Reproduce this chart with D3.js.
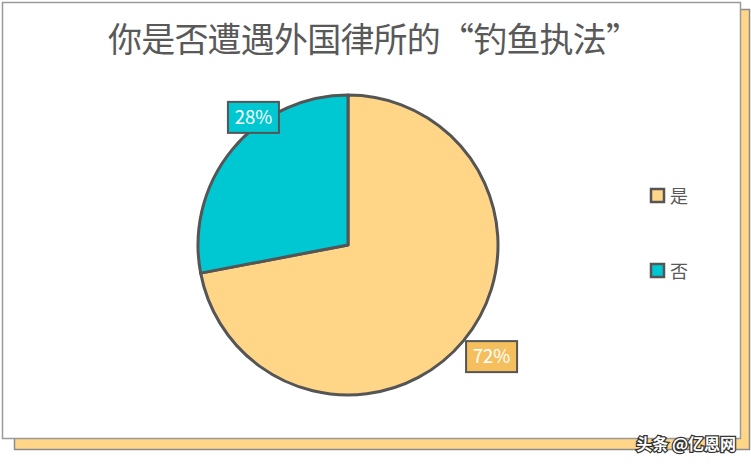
<!DOCTYPE html>
<html>
<head>
<meta charset="utf-8">
<script src="https://cdn.jsdelivr.net/npm/d3@7"></script>
<style>
  body { margin: 0; background: #fff; }
  text { font-family: "Noto Sans CJK SC", "Noto Sans", sans-serif; }
</style>
</head>
<body>
<div id="chart"></div>
<script>
const categories = ['是', '否'];
const values = [72, 28];
const labels = ['72%', '28%'];
const title = '你是否遭遇外国律所的“钓鱼执法”';

const width = 751, height = 464;
const colors = ['#FFD588', '#00C8D2'];
const labelFills = ['#F5BF5E', '#00C8D2'];

let svg = d3.select('#chart')
  .append('svg')
    .attr('width', width)
    .attr('height', height);

// shadow card + white card
svg.append('rect')
  .attr('x', 14.5).attr('y', 9.5)
  .attr('width', 735).attr('height', 440)
  .attr('fill', '#FFD588')
  .attr('stroke', '#8c8c8c')
  .attr('stroke-width', 1.5);
svg.append('rect')
  .attr('x', 2.5).attr('y', 2.5)
  .attr('width', 738).attr('height', 436)
  .attr('fill', '#fff')
  .attr('stroke', '#9a9a9a')
  .attr('stroke-width', 1.5);

svg.append('text')
  .attr('x', 374).attr('y', 52)
  .attr('text-anchor', 'middle')
  .attr('font-size', 34)
  .attr('textLength', 532)
  .attr('fill', '#595959')
  .text(title);

const cx = 348, cy = 245, r = 150;
let pie = d3.pie().sort(null).value(d => d);
let arcs = pie(values);
let arc = d3.arc().innerRadius(0).outerRadius(r);

let g = svg.append('g').attr('transform', `translate(${cx},${cy})`);
g.selectAll('path')
  .data(arcs)
  .enter()
  .append('path')
    .attr('d', arc)
    .attr('fill', (d, i) => colors[i])
    .attr('stroke', '#555')
    .attr('stroke-width', 3)
    .attr('stroke-linejoin', 'round');

// data labels, anchored at the slice's mid point on the rim
const boxW = 51, boxH = 31;
const labelShift = [[28, 16], [21, -32]];
let edge = d3.arc().innerRadius(r).outerRadius(r);
let lab = g.selectAll('g.lab')
  .data(arcs)
  .enter()
  .append('g')
    .attr('class', 'lab')
    .attr('transform', (d, i) => {
      let p = edge.centroid(d);
      return `translate(${p[0] + labelShift[i][0]},${p[1] + labelShift[i][1]})`;
    });
lab.append('rect')
  .attr('x', -boxW / 2).attr('y', -boxH / 2)
  .attr('width', boxW).attr('height', boxH)
  .attr('fill', (d, i) => labelFills[i])
  .attr('stroke', '#555')
  .attr('stroke-width', 2);
lab.append('text')
  .attr('text-anchor', 'middle')
  .attr('dy', '0.36em')
  .attr('font-family', '"Open Sans", sans-serif')
  .attr('font-size', 18.5)
  .attr('fill', '#fff')
  .text((d, i) => labels[i]);

// legend
let legend = svg.selectAll('g.legend')
  .data(categories)
  .enter()
  .append('g')
    .attr('class', 'legend')
    .attr('transform', (d, i) => `translate(651,${189 + i * 75})`);
legend.append('rect')
  .attr('width', 13).attr('height', 13)
  .attr('fill', (d, i) => colors[i])
  .attr('stroke', '#555')
  .attr('stroke-width', 2.5);
legend.append('text')
  .attr('x', 19).attr('y', 14)
  .attr('font-size', 18)
  .attr('fill', '#595959')
  .text(d => d);

// watermark
svg.append('text')
  .attr('x', 736).attr('y', 450)
  .attr('text-anchor', 'end')
  .attr('font-size', 16)
  .attr('font-weight', 'bold')
  .attr('fill', '#fff')
  .attr('stroke', '#333')
  .attr('stroke-width', 2.5)
  .attr('paint-order', 'stroke')
  .text('头条 @亿恩网');
</script>
</body>
</html>
